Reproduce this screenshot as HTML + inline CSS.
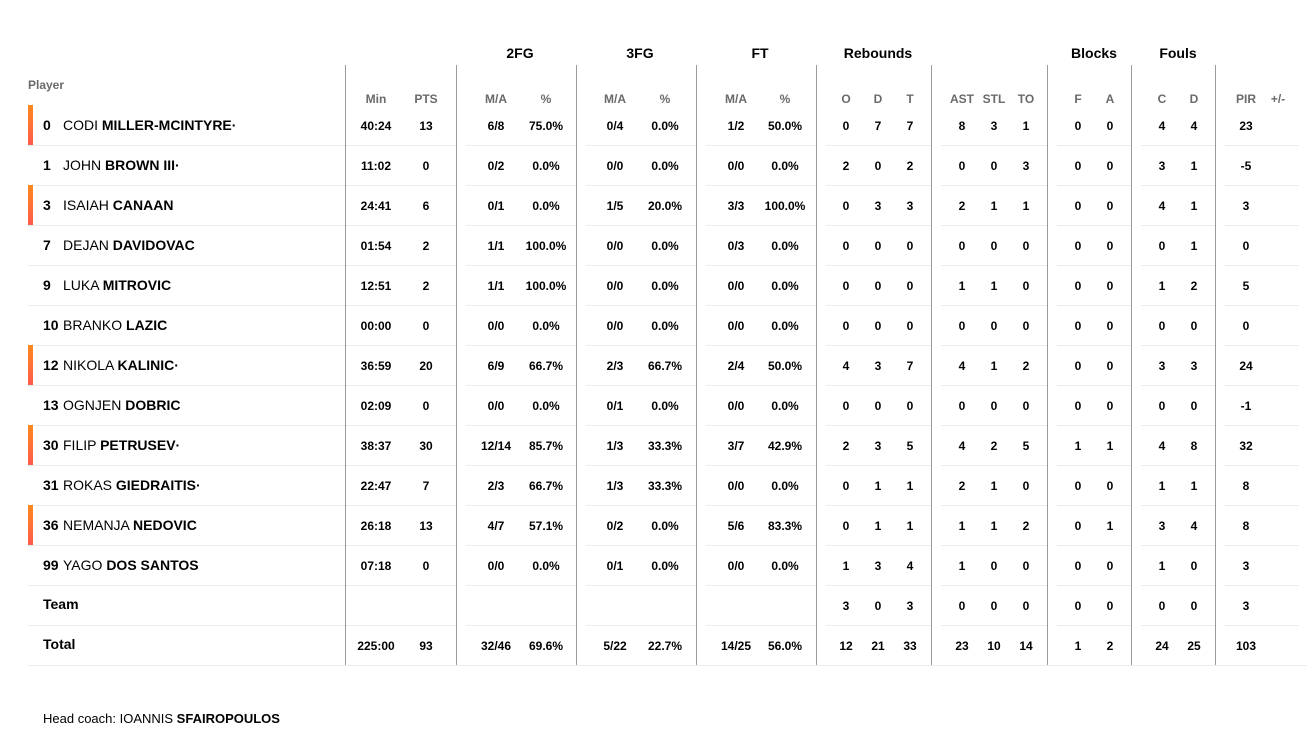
<!DOCTYPE html>
<html><head><meta charset="utf-8"><style>
body{margin:0;width:1314px;height:742px;background:#fff;font-family:"Liberation Sans",sans-serif;position:relative;overflow:hidden;color:#000}
.a{position:absolute;white-space:nowrap}
.c{transform:translateX(-50%);font-weight:bold;font-size:12px}
.g{transform:translateX(-50%);font-weight:bold;font-size:14px}
.h{transform:translateX(-50%);font-weight:bold;font-size:12px;color:#6a6a6a}
.v{position:absolute;width:1px;background:#9a9a9a;top:65px;height:601px}
.r{position:absolute;height:1px;background:#ececec}
.bar{position:absolute;left:28px;width:5px;height:40px;background:linear-gradient(#ff8a1f,#ff5a4a)}
.n{font-size:14px}
</style></head><body>
<div id="root"></div>
<div class="a" style="left:43px;top:711px;font-size:13px">Head coach: IOANNIS <b>SFAIROPOULOS</b></div>
<script>
var H='';
function t(x,y,s,cl){H+='<div class="a '+cl+'" style="left:'+x+'px;top:'+y+'px">'+s+'</div>';}
[345,456,576,696,816,931,1047,1131,1215].forEach(function(x){H+='<div class="v" style="left:'+x+'px"></div>';});
[['2FG',520],['3FG',640],['FT',760],['Rebounds',878],['Blocks',1094],['Fouls',1178]].forEach(function(g){t(g[1],45,g[0],'g');});
H+='<div class="a" style="left:28px;top:78px;font-size:12px;font-weight:bold;color:#6a6a6a">Player</div>';
var cx=[376,426,496,546,615,665,736,785,846,878,910,962,994,1026,1078,1110,1162,1194,1246,1278];
var hd=['Min','PTS','M/A','%','M/A','%','M/A','%','O','D','T','AST','STL','TO','F','A','C','D','PIR','+/-'];
hd.forEach(function(s,i){t(cx[i],92,s,'h');});
var rows=[
[1,'0','CODI','MILLER-MCINTYRE·','40:24 13 6/8 75.0% 0/4 0.0% 1/2 50.0% 0 7 7 8 3 1 0 0 4 4 23'],
[0,'1','JOHN','BROWN III·','11:02 0 0/2 0.0% 0/0 0.0% 0/0 0.0% 2 0 2 0 0 3 0 0 3 1 -5'],
[1,'3','ISAIAH','CANAAN','24:41 6 0/1 0.0% 1/5 20.0% 3/3 100.0% 0 3 3 2 1 1 0 0 4 1 3'],
[0,'7','DEJAN','DAVIDOVAC','01:54 2 1/1 100.0% 0/0 0.0% 0/3 0.0% 0 0 0 0 0 0 0 0 0 1 0'],
[0,'9','LUKA','MITROVIC','12:51 2 1/1 100.0% 0/0 0.0% 0/0 0.0% 0 0 0 1 1 0 0 0 1 2 5'],
[0,'10','BRANKO','LAZIC','00:00 0 0/0 0.0% 0/0 0.0% 0/0 0.0% 0 0 0 0 0 0 0 0 0 0 0'],
[1,'12','NIKOLA','KALINIC·','36:59 20 6/9 66.7% 2/3 66.7% 2/4 50.0% 4 3 7 4 1 2 0 0 3 3 24'],
[0,'13','OGNJEN','DOBRIC','02:09 0 0/0 0.0% 0/1 0.0% 0/0 0.0% 0 0 0 0 0 0 0 0 0 0 -1'],
[1,'30','FILIP','PETRUSEV·','38:37 30 12/14 85.7% 1/3 33.3% 3/7 42.9% 2 3 5 4 2 5 1 1 4 8 32'],
[0,'31','ROKAS','GIEDRAITIS·','22:47 7 2/3 66.7% 1/3 33.3% 0/0 0.0% 0 1 1 2 1 0 0 0 1 1 8'],
[1,'36','NEMANJA','NEDOVIC','26:18 13 4/7 57.1% 0/2 0.0% 5/6 83.3% 0 1 1 1 1 2 0 1 3 4 8'],
[0,'99','YAGO','DOS SANTOS','07:18 0 0/0 0.0% 0/1 0.0% 0/0 0.0% 1 3 4 1 0 0 0 0 1 0 3'],
[0,'','Team','','- - - - - - - - 3 0 3 0 0 0 0 0 0 0 3'],
[0,'','Total','','225:00 93 32/46 69.6% 5/22 22.7% 14/25 56.0% 12 21 33 23 10 14 1 2 24 25 103']];
var segs=[[28,345],[346,456],[466,576],[586,696],[706,816],[826,931],[941,1047],[1057,1131],[1141,1215],[1225,1299]];
rows.forEach(function(r,i){
 var top=105+i*40, y=top+14;
 if(r[0])H+='<div class="bar" style="top:'+top+'px"></div>';
 if(r[1]!==''){
  H+='<div class="a n" style="left:43px;top:'+(y-2)+'px"><b style="display:inline-block;width:20px">'+r[1]+'</b>'+r[2]+' <b>'+r[3]+'</b></div>';
 } else H+='<div class="a n" style="left:43px;top:'+(y-3)+'px"><b>'+r[2]+'</b></div>';
 r[4].split(' ').forEach(function(s,j){if(s!=='-')t(cx[j],y,s,'c');});
 if(i<13) segs.forEach(function(sg){H+='<div class="r" style="left:'+sg[0]+'px;width:'+(sg[1]-sg[0])+'px;top:'+(top+40)+'px"></div>';});
 else H+='<div class="r" style="left:28px;width:1279px;top:'+(top+40)+'px"></div>';
});
document.getElementById('root').innerHTML=H;
</script>
</body></html>
